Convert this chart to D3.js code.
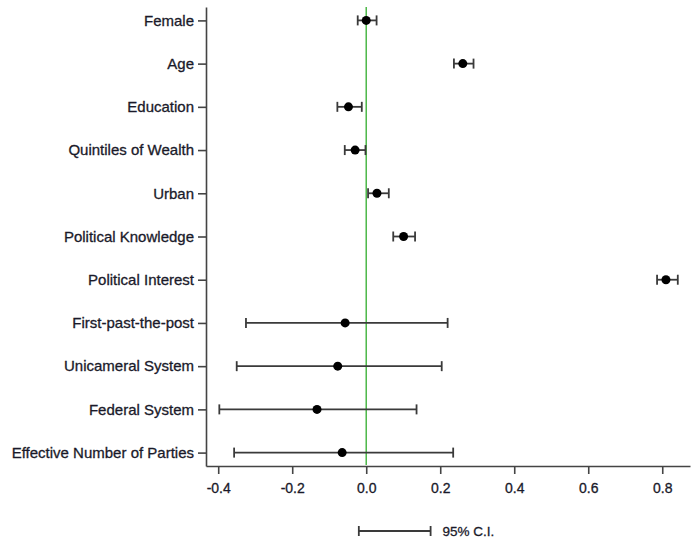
<!DOCTYPE html>
<html>
<head>
<meta charset="utf-8">
<script src="https://d3js.org/d3.v7.min.js"></script>
<style>
  body { margin: 0; background: #fff; }
  svg text { font-family: "Liberation Sans", Arial, sans-serif; fill: #1a1a2a; }
</style>
</head>
<body>
<svg id="chart" width="696" height="544"></svg>
<script>
// coefficient estimates with 95% confidence intervals
const variables = ["Female", "Age", "Education", "Quintiles of Wealth", "Urban",
  "Political Knowledge", "Political Interest", "First-past-the-post",
  "Unicameral System", "Federal System", "Effective Number of Parties"];
const estimates = [0.0, 0.261, -0.048, -0.030, 0.029, 0.101, 0.810, -0.057, -0.077, -0.133, -0.065];
const lower = [-0.023, 0.237, -0.078, -0.058, 0.005, 0.073, 0.786, -0.325, -0.350, -0.397, -0.357];
const upper = [0.028, 0.290, -0.012, -0.002, 0.061, 0.132, 0.842, 0.220, 0.204, 0.136, 0.235];
const xTicks = [-0.4, -0.2, 0.0, 0.2, 0.4, 0.6, 0.8];

const data = variables.map((v, i) => ({ name: v, est: estimates[i], lo: lower[i], hi: upper[i] }));

const svg = d3.select("#chart");

// scales
const xScale = d3.scaleLinear().domain([-0.433, 0.875]).range([206, 690]);
const yScale = d3.scalePoint().domain(variables).range([7, 466]).padding(0.31);

// axes
const yAxis = d3.axisLeft(yScale).tickSize(8).tickSizeOuter(0).tickPadding(4);
const xAxis = d3.axisBottom(xScale).tickValues(xTicks).tickFormat(d => d.toFixed(1))
  .tickSize(8).tickSizeOuter(0).tickPadding(9);

const gy = svg.append("g")
  .attr("class", "axis")
  .attr("transform", "translate(206,0)")
  .call(yAxis);

const gx = svg.append("g")
  .attr("class", "axis")
  .attr("transform", "translate(0,466)")
  .call(xAxis);

svg.selectAll(".axis path, .axis line")
  .attr("stroke", "#444")
  .attr("stroke-width", 1.6);

svg.selectAll(".axis text")
  .attr("font-family", "Liberation Sans, Arial, sans-serif")
  .attr("fill", "#1a1a2a")
  .attr("stroke", "#1a1a2a")
  .attr("stroke-width", 0.3);

gy.selectAll("text").attr("font-size", 15);
gx.selectAll("text").attr("font-size", 14);

// zero reference line
svg.append("line")
  .attr("x1", xScale(0)).attr("x2", xScale(0))
  .attr("y1", 7).attr("y2", 465)
  .attr("stroke", "#4cb848")
  .attr("stroke-width", 1.5);

// error bars
const bars = svg.append("g").selectAll("g").data(data).join("g");
const capH = 5;

bars.append("line")
  .attr("x1", d => xScale(d.lo)).attr("x2", d => xScale(d.hi))
  .attr("y1", d => yScale(d.name)).attr("y2", d => yScale(d.name))
  .attr("stroke", "#3a3a3a").attr("stroke-width", 1.8);

bars.append("line")
  .attr("x1", d => xScale(d.lo)).attr("x2", d => xScale(d.lo))
  .attr("y1", d => yScale(d.name) - capH).attr("y2", d => yScale(d.name) + capH)
  .attr("stroke", "#3a3a3a").attr("stroke-width", 1.8);

bars.append("line")
  .attr("x1", d => xScale(d.hi)).attr("x2", d => xScale(d.hi))
  .attr("y1", d => yScale(d.name) - capH).attr("y2", d => yScale(d.name) + capH)
  .attr("stroke", "#3a3a3a").attr("stroke-width", 1.8);

bars.append("circle")
  .attr("cx", d => xScale(d.est))
  .attr("cy", d => yScale(d.name))
  .attr("r", 4.5)
  .attr("fill", "#000");

// legend
const legY = 531;
const legX1 = xScale(-0.02), legX2 = xScale(0.174);
const leg = svg.append("g");
leg.append("line").attr("x1", legX1).attr("x2", legX2).attr("y1", legY).attr("y2", legY)
  .attr("stroke", "#3a3a3a").attr("stroke-width", 1.8);
leg.append("line").attr("x1", legX1).attr("x2", legX1).attr("y1", legY - capH).attr("y2", legY + capH)
  .attr("stroke", "#3a3a3a").attr("stroke-width", 1.8);
leg.append("line").attr("x1", legX2).attr("x2", legX2).attr("y1", legY - capH).attr("y2", legY + capH)
  .attr("stroke", "#3a3a3a").attr("stroke-width", 1.8);
leg.append("text")
  .attr("x", legX2 + 12).attr("y", legY)
  .attr("dy", "0.35em")
  .attr("font-size", 13.5)
  .attr("stroke", "#1a1a2a")
  .attr("stroke-width", 0.3)
  .text("95% C.I.");
</script>
</body>
</html>
